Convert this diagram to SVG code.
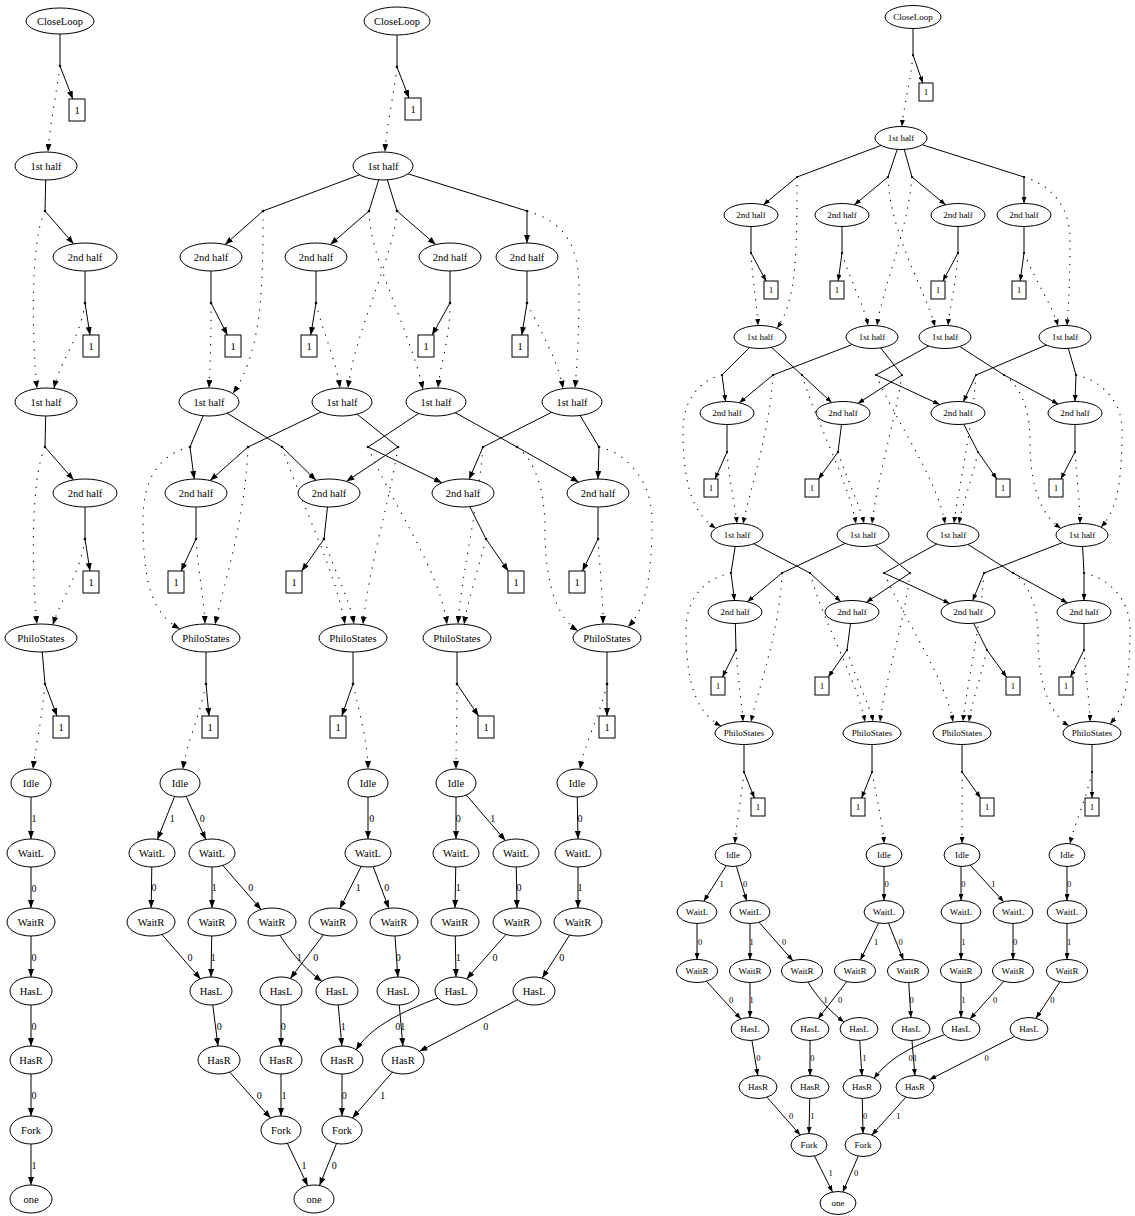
<svg xmlns="http://www.w3.org/2000/svg" width="1135" height="1216" viewBox="0 0 1135 1216">
<defs>
<marker id="ah" viewBox="0 0 8 6" refX="8" refY="3" markerWidth="8" markerHeight="6" markerUnits="userSpaceOnUse" orient="auto"><path d="M0,0L8,3L0,6z" fill="#000"/></marker>
<marker id="as" viewBox="0 0 6.5 5" refX="6.5" refY="2.5" markerWidth="6.5" markerHeight="5" markerUnits="userSpaceOnUse" orient="auto"><path d="M0,0L6.5,2.5L0,5z" fill="#000"/></marker>
<style>
.n ellipse,.n rect{fill:#fff;stroke:#000;stroke-width:1}
.n text{font-family:"Liberation Serif","Times New Roman",serif;font-size:10.5px;text-anchor:middle;fill:#000}
.s text{font-size:9px}
.l{stroke:#000;stroke-width:1;fill:none}
.a{stroke:#000;stroke-width:1;fill:none;marker-end:url(#ah)}
.d{stroke:#000;stroke-width:1.1;fill:none;stroke-dasharray:1.2,7;marker-end:url(#ah)}
.as{stroke:#000;stroke-width:1;fill:none;marker-end:url(#as)}
.ds{stroke:#000;stroke-width:1.1;fill:none;stroke-dasharray:1.2,6.5;marker-end:url(#as)}
.lb{font-family:"Liberation Serif","Times New Roman",serif;font-size:10px;text-anchor:middle;fill:#000}
.lbs{font-family:"Liberation Serif","Times New Roman",serif;font-size:8.5px;text-anchor:middle;fill:#000}
.pt{fill:#000}
</style>
</defs>
<rect width="1135" height="1216" fill="#fff"/>
<g id="connectors">
<!-- Graph A -->
<path class="l" d="M60,21V66"/>
<path class="a" d="M60,66L72.8,99"/>
<path class="d" d="M60,66C56,95 50,125 48,152"/>
<path class="l" d="M46,166L45,211"/>
<path class="a" d="M45,211L73.6,243.9"/>
<path class="d" d="M45,211C30,240 32,340 37,388.6"/>
<path class="l" d="M85,257V303"/>
<path class="a" d="M85,303L90,335"/>
<path class="d" d="M85,303C80,340 60,360 54,388.5"/>
<path class="l" d="M46,402L45,447"/>
<path class="a" d="M45,447L73.6,479.9"/>
<path class="d" d="M45,447C30,480 32,580 37,624"/>
<path class="l" d="M85,493V539"/>
<path class="a" d="M85,539L90,571"/>
<path class="d" d="M85,539C80,575 60,600 53,624.8"/>
<path class="l" d="M41,638L45,684"/>
<path class="a" d="M45,684L57,716"/>
<path class="d" d="M45,684C42,720 35,750 33,769"/>
<path class="a" d="M31,783V839"/>
<path class="a" d="M31,853V908"/>
<path class="a" d="M31,922V977"/>
<path class="a" d="M31,991V1046"/>
<path class="a" d="M31,1060V1116"/>
<path class="a" d="M31,1130V1185"/>
<text class="lb" x="34" y="821.5">1</text>
<text class="lb" x="34" y="891.5">0</text>
<text class="lb" x="34" y="960.5">0</text>
<text class="lb" x="34" y="1029.5">0</text>
<text class="lb" x="34" y="1098.5">0</text>
<text class="lb" x="34" y="1168.5">1</text>
<!-- Graph B -->
<path class="l" d="M397,21V67"/>
<path class="a" d="M397,67L409,98"/>
<path class="d" d="M397,67C393,100 386,130 385,152"/>
<path class="l" d="M383,166L263,211"/>
<path class="a" d="M263,211L225.1,244.5"/>
<path class="l" d="M383,166L369,211"/>
<path class="a" d="M369,211L330.3,244.6"/>
<path class="l" d="M383,166L397,211"/>
<path class="a" d="M397,211L435.7,244.6"/>
<path class="l" d="M383,166L527,211"/>
<path class="a" d="M527,211V243"/>
<path class="d" d="M263,211C263,290 262,350 233,393.6"/>
<path class="d" d="M369,211C370,260 410,330 423,389.4"/>
<path class="d" d="M397,211C393,260 355,330 348,388.3"/>
<path class="d" d="M527,211C565,222 579,245 579,290C579,340 577,365 575,388.1"/>
<path class="l" d="M211,257V303"/>
<path class="a" d="M211,303L227.4,335"/>
<path class="d" d="M211,303C211,340 210,370 209,388"/>
<path class="l" d="M316,257V303"/>
<path class="a" d="M316,303L310.8,335"/>
<path class="d" d="M316,303C322,330 336,360 340,388"/>
<path class="l" d="M450,257V303"/>
<path class="a" d="M450,303L432.1,335"/>
<path class="d" d="M450,303C450,340 440,365 438,388"/>
<path class="l" d="M527,257V303"/>
<path class="a" d="M527,303L521.8,335"/>
<path class="d" d="M527,303C540,330 558,360 563,388.6"/>
<path class="l" d="M209,402L190,447"/>
<path class="a" d="M190,447L194.2,479"/>
<path class="l" d="M209,402L282,447"/>
<path class="a" d="M282,447L316,480.3"/>
<path class="l" d="M342,402L248,447"/>
<path class="a" d="M248,447L210.1,480.5"/>
<path class="l" d="M342,402L398,447"/>
<path class="a" d="M398,447L346.4,481.4"/>
<path class="l" d="M436,402L368,447"/>
<path class="a" d="M368,447L441.9,482.8"/>
<path class="l" d="M436,402L517,447"/>
<path class="a" d="M517,447L578.7,482"/>
<path class="l" d="M572,402L483,447"/>
<path class="a" d="M483,447L469,479.3"/>
<path class="l" d="M572,402L599,447"/>
<path class="a" d="M599,447L598,479"/>
<path class="d" d="M190,447C158,455 143,480 143,520C143,590 155,615 180,629"/>
<path class="d" d="M248,447C245,520 225,580 215,624.5"/>
<path class="d" d="M196,539C198,570 204,600 205,624"/>
<path class="d" d="M282,447C300,500 335,570 345,624.2"/>
<path class="d" d="M398,447C390,500 368,570 363,624.4"/>
<path class="d" d="M324,539C334,570 350,600 354,624"/>
<path class="d" d="M368,447C390,500 440,570 447,624.4"/>
<path class="d" d="M483,447C478,510 462,570 458,624"/>
<path class="d" d="M486,539C478,570 468,600 464,624.4"/>
<path class="d" d="M517,447C535,460 545,490 545,530C545,590 560,620 578,630.7"/>
<path class="d" d="M599,447C625,452 652,480 652,520C652,590 642,612 628,627"/>
<path class="d" d="M598,539C600,570 603,600 603,624"/>
<path class="l" d="M196,493V539"/>
<path class="a" d="M196,539L181,571"/>
<path class="l" d="M329,493L324,539"/>
<path class="a" d="M324,539L301.7,571"/>
<path class="l" d="M463,493L486,539"/>
<path class="a" d="M486,539L508.3,571"/>
<path class="l" d="M598,493V539"/>
<path class="a" d="M598,539L582.4,571"/>
<path class="l" d="M206,638V684"/>
<path class="a" d="M206,684L209,716"/>
<path class="d" d="M206,684C200,715 186,745 183,769.2"/>
<path class="l" d="M353,638V684"/>
<path class="a" d="M353,684L341.8,716"/>
<path class="d" d="M353,684C360,715 368,745 368,769"/>
<path class="l" d="M457,638V684"/>
<path class="a" d="M457,684L478.6,716"/>
<path class="d" d="M457,684C457,720 456,745 456,769"/>
<path class="l" d="M607,638V684"/>
<path class="a" d="M607,684V716"/>
<path class="d" d="M607,684C600,715 584,745 580,769.2"/>
<path class="a" d="M180,783L157.4,839.4"/>
<path class="a" d="M180,783L205.8,839.5"/>
<path class="a" d="M152,853L151.2,908"/>
<path class="a" d="M212,853V908"/>
<path class="a" d="M212,853L261.1,909.5"/>
<path class="a" d="M368,783V839"/>
<path class="a" d="M368,853L339.8,908.6"/>
<path class="a" d="M368,853L388.8,908.3"/>
<path class="a" d="M456,783V839"/>
<path class="a" d="M456,783L505.4,840.6"/>
<path class="a" d="M456,853L455,908"/>
<path class="a" d="M516,853L517,908"/>
<path class="a" d="M577,783L578,839"/>
<path class="a" d="M578,853V908"/>
<path class="a" d="M151,922L200.5,978.9"/>
<path class="a" d="M212,922L211,977"/>
<path class="a" d="M272,922C285,945 300,965 322,981.5"/>
<path class="a" d="M333,922L290.4,978.5"/>
<path class="a" d="M394,922L397.9,977"/>
<path class="a" d="M455,922L456,977"/>
<path class="a" d="M517,922L466.7,978.9"/>
<path class="a" d="M578,922L542.2,978.1"/>
<path class="a" d="M211,991L218,1046"/>
<path class="a" d="M281,991V1046"/>
<path class="a" d="M337,991L341.9,1046"/>
<path class="a" d="M398,991L402.9,1046"/>
<path class="a" d="M456,991C420,1005 375,1020 356,1050"/>
<path class="a" d="M534,991L419.5,1051.3"/>
<path class="a" d="M219,1060L270.5,1118.1"/>
<path class="a" d="M281,1060V1116"/>
<path class="a" d="M342,1060V1116"/>
<path class="a" d="M403,1060L352.4,1118"/>
<path class="a" d="M281,1130L307.7,1185.7"/>
<path class="a" d="M342,1130L319.5,1185.5"/>
<text class="lb" x="172.3" y="821.8">1</text>
<text class="lb" x="202.3" y="821.8">0</text>
<text class="lb" x="154" y="890.8">0</text>
<text class="lb" x="214.3" y="890.8">1</text>
<text class="lb" x="250.7" y="890.8">0</text>
<text class="lb" x="371.7" y="821.8">0</text>
<text class="lb" x="358.3" y="890.8">1</text>
<text class="lb" x="386.7" y="890.8">0</text>
<text class="lb" x="458.3" y="821.8">0</text>
<text class="lb" x="492.7" y="821.8">1</text>
<text class="lb" x="458.3" y="890.8">1</text>
<text class="lb" x="519" y="890.8">0</text>
<text class="lb" x="580" y="821.8">0</text>
<text class="lb" x="580" y="890.8">1</text>
<text class="lb" x="190" y="960.8">0</text>
<text class="lb" x="213.3" y="960.8">1</text>
<text class="lb" x="299.3" y="960.8">1</text>
<text class="lb" x="315.7" y="960.8">0</text>
<text class="lb" x="398.3" y="960.8">0</text>
<text class="lb" x="458.3" y="960.8">1</text>
<text class="lb" x="495" y="960.8">0</text>
<text class="lb" x="561.7" y="960.8">0</text>
<text class="lb" x="219.3" y="1030.2">0</text>
<text class="lb" x="283.3" y="1030.2">0</text>
<text class="lb" x="343.3" y="1030.2">1</text>
<text class="lb" x="397.7" y="1030.2">0</text>
<text class="lb" x="402.7" y="1030.2">1</text>
<text class="lb" x="485.7" y="1030.2">0</text>
<text class="lb" x="259.3" y="1098.5">0</text>
<text class="lb" x="284" y="1098.5">1</text>
<text class="lb" x="344.3" y="1098.5">0</text>
<text class="lb" x="382.7" y="1098.5">1</text>
<text class="lb" x="304" y="1169.2">1</text>
<text class="lb" x="334.3" y="1169.2">0</text>
<!-- Graph C -->
<path class="l" d="M913,17V55"/>
<path class="as" d="M913,55L922.8,83"/>
<path class="ds" d="M913,55C910,85 903,110 902,126.5"/>
<path class="l" d="M901,138L797,177"/>
<path class="as" d="M797,177L763.4,204.8"/>
<path class="l" d="M901,138L888,177"/>
<path class="as" d="M888,177L854.4,204.8"/>
<path class="l" d="M901,138L912,177"/>
<path class="as" d="M912,177L945.6,204.8"/>
<path class="l" d="M901,138L1024,177"/>
<path class="as" d="M1024,177V203.5"/>
<path class="ds" d="M797,177C797,250 797,300 777,328.3"/>
<path class="ds" d="M888,177C889,230 925,290 935,326.4"/>
<path class="ds" d="M912,177C908,230 882,290 877,325.6"/>
<path class="ds" d="M1024,177C1050,185 1070,205 1070,240C1070,290 1068,310 1067,325.9"/>
<path class="l" d="M751,215V253"/>
<path class="as" d="M751,253L766.1,281"/>
<path class="ds" d="M751,253C753,285 757,305 758,325.5"/>
<path class="l" d="M842,215V253"/>
<path class="as" d="M842,253L838.2,281"/>
<path class="ds" d="M842,253C850,280 864,305 868,325.5"/>
<path class="l" d="M958,215V253"/>
<path class="as" d="M958,253L942.9,281"/>
<path class="ds" d="M958,253C956,285 950,305 948,325.5"/>
<path class="l" d="M1024,215V253"/>
<path class="as" d="M1024,253L1020.2,281"/>
<path class="ds" d="M1024,253C1035,280 1052,305 1058,325.9"/>
<path class="l" d="M760,337L722,375"/>
<path class="as" d="M722,375L725.5,401.5"/>
<path class="l" d="M760,337L802,375"/>
<path class="as" d="M802,375L831.7,402.6"/>
<path class="l" d="M872,337L773,375"/>
<path class="as" d="M773,375L739.4,402.8"/>
<path class="l" d="M872,337L902,375"/>
<path class="as" d="M902,375L857.9,403.4"/>
<path class="l" d="M945,337L876,375"/>
<path class="as" d="M876,375L939.7,404.5"/>
<path class="l" d="M945,337L1004,375"/>
<path class="as" d="M1004,375L1058.2,404"/>
<path class="l" d="M1065,337L976,375"/>
<path class="as" d="M976,375L963.3,401.7"/>
<path class="l" d="M1065,337L1076,375"/>
<path class="as" d="M1076,375L1075,401.5"/>
<path class="ds" d="M722,375C700,380 683,400 683,430C683,490 695,515 716,528.2"/>
<path class="ds" d="M773,375C770,430 750,490 743,523.8"/>
<path class="ds" d="M727,452C729,480 735,505 737,523.5"/>
<path class="ds" d="M802,375C815,420 848,480 856,523.7"/>
<path class="ds" d="M902,375C895,420 877,480 872,523.8"/>
<path class="ds" d="M838,452C847,480 860,505 864,523.5"/>
<path class="ds" d="M876,375C895,420 938,480 945,523.8"/>
<path class="ds" d="M976,375C972,430 958,490 954,523.5"/>
<path class="ds" d="M978,452C972,480 962,505 959,523.7"/>
<path class="ds" d="M1004,375C1020,385 1030,410 1030,440C1030,495 1045,518 1061,528.2"/>
<path class="ds" d="M1076,375C1100,380 1122,400 1122,430C1122,490 1115,512 1101,527.1"/>
<path class="ds" d="M1075,452C1077,480 1080,505 1080,523.5"/>
<path class="l" d="M727,413V452"/>
<path class="as" d="M727,452L715,479"/>
<path class="l" d="M843,413L838,452"/>
<path class="as" d="M838,452L818.5,479"/>
<path class="l" d="M958,413L978,452"/>
<path class="as" d="M978,452L996.8,479"/>
<path class="l" d="M1075,413V452"/>
<path class="as" d="M1075,452L1060.8,479"/>
<path class="l" d="M737,535L731,573"/>
<path class="as" d="M731,573L734.5,600.5"/>
<path class="l" d="M737,535L810,573"/>
<path class="as" d="M810,573L840.7,601.5"/>
<path class="l" d="M863,535L782,573"/>
<path class="as" d="M782,573L747.3,601.8"/>
<path class="l" d="M863,535L910,573"/>
<path class="as" d="M910,573L866.4,602.3"/>
<path class="l" d="M953,535L884,573"/>
<path class="as" d="M884,573L949.8,603.5"/>
<path class="l" d="M953,535L1013,573"/>
<path class="as" d="M1013,573L1067.5,602.9"/>
<path class="l" d="M1082,535L984,573"/>
<path class="as" d="M984,573L972.6,600.7"/>
<path class="l" d="M1082,535L1084,573"/>
<path class="as" d="M1084,573V600.5"/>
<path class="ds" d="M731,573C705,578 686,598 686,630C686,690 700,715 721,726"/>
<path class="ds" d="M782,573C780,630 758,690 751,721.8"/>
<path class="ds" d="M736,650C738,680 742,705 743,721.5"/>
<path class="ds" d="M810,573C822,620 857,680 865,721.7"/>
<path class="ds" d="M910,573C905,620 885,680 880,721.8"/>
<path class="ds" d="M847,650C856,680 870,705 873,721.5"/>
<path class="ds" d="M884,573C905,620 946,680 953,721.8"/>
<path class="ds" d="M984,573C980,630 966,690 963,721.5"/>
<path class="ds" d="M987,650C980,680 971,705 969,721.7"/>
<path class="ds" d="M1013,573C1028,583 1038,605 1038,635C1038,690 1052,715 1069,726"/>
<path class="ds" d="M1084,573C1108,578 1130,598 1130,630C1130,690 1122,710 1110,724"/>
<path class="ds" d="M1084,650C1086,680 1090,705 1090,721.5"/>
<path class="l" d="M735,612L736,650"/>
<path class="as" d="M736,650L722.5,677"/>
<path class="l" d="M852,612L847,650"/>
<path class="as" d="M847,650L828.3,677"/>
<path class="l" d="M968,612L987,650"/>
<path class="as" d="M987,650L1006.5,677"/>
<path class="l" d="M1084,612V650"/>
<path class="as" d="M1084,650L1070.5,677"/>
<path class="l" d="M744,733V772"/>
<path class="as" d="M744,772L754.4,798"/>
<path class="ds" d="M744,772C741,800 736,825 735,843.5"/>
<path class="l" d="M872,733V772"/>
<path class="as" d="M872,772L861.6,798"/>
<path class="ds" d="M872,772C877,800 883,825 884,843.5"/>
<path class="l" d="M962,733V772"/>
<path class="as" d="M962,772L980.6,798"/>
<path class="ds" d="M962,772C962,800 962,825 962,843.5"/>
<path class="l" d="M1092,733V772"/>
<path class="as" d="M1092,772V798"/>
<path class="ds" d="M1092,772C1086,800 1074,825 1070,843.8"/>
<path class="as" d="M733,855L703.8,901.2"/>
<path class="as" d="M733,855L746.6,900.7"/>
<path class="as" d="M697,912V959.5"/>
<path class="as" d="M750,912V959.5"/>
<path class="as" d="M750,912L792.9,960.7"/>
<path class="as" d="M884,855V900.5"/>
<path class="as" d="M884,912L860.4,959.9"/>
<path class="as" d="M884,912L903.4,959.8"/>
<path class="as" d="M961,855V900.5"/>
<path class="as" d="M961,855L1003.7,901.8"/>
<path class="as" d="M961,912V959.5"/>
<path class="as" d="M1013,912V959.5"/>
<path class="as" d="M1067,855V900.5"/>
<path class="as" d="M1067,912V959.5"/>
<path class="as" d="M697,971L740.8,1018.9"/>
<path class="as" d="M750,971V1017.5"/>
<path class="as" d="M802,971C812,992 828,1010 844,1022"/>
<path class="as" d="M855,971L818.1,1018.6"/>
<path class="as" d="M908,971L910.9,1017.5"/>
<path class="as" d="M961,971V1017.5"/>
<path class="as" d="M1013,971L970.1,1018.9"/>
<path class="as" d="M1067,971L1036,1018.3"/>
<path class="as" d="M750,1029L757.8,1075.5"/>
<path class="as" d="M810,1029V1075.5"/>
<path class="as" d="M859,1029L861.9,1075.5"/>
<path class="as" d="M911,1029L914.9,1075.5"/>
<path class="as" d="M961,1029C930,1040 895,1050 874,1078.5"/>
<path class="as" d="M1029,1029L929.5,1079.6"/>
<path class="as" d="M758,1087L800.2,1135"/>
<path class="as" d="M810,1087L809,1133.5"/>
<path class="as" d="M862,1087L863,1133.5"/>
<path class="as" d="M915,1087L871.9,1135"/>
<path class="as" d="M809,1145L832.5,1192"/>
<path class="as" d="M863,1145L842.8,1191.9"/>
<text class="lbs" x="721.7" y="886.7">1</text>
<text class="lbs" x="745" y="886.7">0</text>
<text class="lbs" x="700" y="944.7">0</text>
<text class="lbs" x="751.7" y="944.7">1</text>
<text class="lbs" x="784" y="944.7">0</text>
<text class="lbs" x="886.7" y="886.7">0</text>
<text class="lbs" x="876" y="944.7">1</text>
<text class="lbs" x="900.7" y="944.7">0</text>
<text class="lbs" x="963.3" y="886.7">0</text>
<text class="lbs" x="993.3" y="886.7">1</text>
<text class="lbs" x="963.3" y="944.7">1</text>
<text class="lbs" x="1015" y="944.7">0</text>
<text class="lbs" x="1069" y="886.7">0</text>
<text class="lbs" x="1069" y="944.7">1</text>
<text class="lbs" x="731" y="1003">0</text>
<text class="lbs" x="751.7" y="1003">1</text>
<text class="lbs" x="825.7" y="1003">1</text>
<text class="lbs" x="840" y="1003">0</text>
<text class="lbs" x="911.7" y="1003">0</text>
<text class="lbs" x="963.3" y="1003">1</text>
<text class="lbs" x="995" y="1003">0</text>
<text class="lbs" x="1052.3" y="1003">0</text>
<text class="lbs" x="758.3" y="1061.3">0</text>
<text class="lbs" x="812.3" y="1061.3">0</text>
<text class="lbs" x="864.3" y="1061.3">1</text>
<text class="lbs" x="910.7" y="1061.3">0</text>
<text class="lbs" x="915" y="1061.3">1</text>
<text class="lbs" x="986.7" y="1061.3">0</text>
<text class="lbs" x="791" y="1119">0</text>
<text class="lbs" x="812.3" y="1119">1</text>
<text class="lbs" x="865" y="1119">0</text>
<text class="lbs" x="898.3" y="1119">1</text>
<text class="lbs" x="830.7" y="1176.3">1</text>
<text class="lbs" x="856" y="1176.3">0</text>
</g>
<g id="junctions">
<circle class="pt" cx="60" cy="66" r="1.3"/><circle class="pt" cx="45" cy="211" r="1.3"/><circle class="pt" cx="85" cy="303" r="1.3"/><circle class="pt" cx="45" cy="447" r="1.3"/><circle class="pt" cx="85" cy="539" r="1.3"/><circle class="pt" cx="45" cy="684" r="1.3"/>
<circle class="pt" cx="397" cy="67" r="1.3"/><circle class="pt" cx="263" cy="211" r="1.3"/><circle class="pt" cx="369" cy="211" r="1.3"/><circle class="pt" cx="397" cy="211" r="1.3"/><circle class="pt" cx="527" cy="211" r="1.3"/>
<circle class="pt" cx="211" cy="303" r="1.3"/><circle class="pt" cx="316" cy="303" r="1.3"/><circle class="pt" cx="450" cy="303" r="1.3"/><circle class="pt" cx="527" cy="303" r="1.3"/>
<circle class="pt" cx="190" cy="447" r="1.3"/><circle class="pt" cx="248" cy="447" r="1.3"/><circle class="pt" cx="282" cy="447" r="1.3"/><circle class="pt" cx="368" cy="447" r="1.3"/><circle class="pt" cx="398" cy="447" r="1.3"/><circle class="pt" cx="483" cy="447" r="1.3"/><circle class="pt" cx="517" cy="447" r="1.3"/><circle class="pt" cx="599" cy="447" r="1.3"/>
<circle class="pt" cx="196" cy="539" r="1.3"/><circle class="pt" cx="324" cy="539" r="1.3"/><circle class="pt" cx="486" cy="539" r="1.3"/><circle class="pt" cx="598" cy="539" r="1.3"/>
<circle class="pt" cx="206" cy="684" r="1.3"/><circle class="pt" cx="353" cy="684" r="1.3"/><circle class="pt" cx="457" cy="684" r="1.3"/><circle class="pt" cx="607" cy="684" r="1.3"/>
<circle class="pt" cx="913" cy="55" r="1.1"/><circle class="pt" cx="797" cy="177" r="1.1"/><circle class="pt" cx="888" cy="177" r="1.1"/><circle class="pt" cx="912" cy="177" r="1.1"/><circle class="pt" cx="1024" cy="177" r="1.1"/>
<circle class="pt" cx="751" cy="253" r="1.1"/><circle class="pt" cx="842" cy="253" r="1.1"/><circle class="pt" cx="958" cy="253" r="1.1"/><circle class="pt" cx="1024" cy="253" r="1.1"/>
<circle class="pt" cx="722" cy="375" r="1.1"/><circle class="pt" cx="773" cy="375" r="1.1"/><circle class="pt" cx="802" cy="375" r="1.1"/><circle class="pt" cx="876" cy="375" r="1.1"/><circle class="pt" cx="902" cy="375" r="1.1"/><circle class="pt" cx="976" cy="375" r="1.1"/><circle class="pt" cx="1004" cy="375" r="1.1"/><circle class="pt" cx="1076" cy="375" r="1.1"/>
<circle class="pt" cx="727" cy="452" r="1.1"/><circle class="pt" cx="838" cy="452" r="1.1"/><circle class="pt" cx="978" cy="452" r="1.1"/><circle class="pt" cx="1075" cy="452" r="1.1"/>
<circle class="pt" cx="731" cy="573" r="1.1"/><circle class="pt" cx="782" cy="573" r="1.1"/><circle class="pt" cx="810" cy="573" r="1.1"/><circle class="pt" cx="884" cy="573" r="1.1"/><circle class="pt" cx="910" cy="573" r="1.1"/><circle class="pt" cx="984" cy="573" r="1.1"/><circle class="pt" cx="1013" cy="573" r="1.1"/><circle class="pt" cx="1084" cy="573" r="1.1"/>
<circle class="pt" cx="736" cy="650" r="1.1"/><circle class="pt" cx="847" cy="650" r="1.1"/><circle class="pt" cx="987" cy="650" r="1.1"/><circle class="pt" cx="1084" cy="650" r="1.1"/>
<circle class="pt" cx="744" cy="772" r="1.1"/><circle class="pt" cx="872" cy="772" r="1.1"/><circle class="pt" cx="962" cy="772" r="1.1"/><circle class="pt" cx="1092" cy="772" r="1.1"/>
</g>
<g id="nodes">
<!-- Graph A -->
<g id="a-closeloop" class="n"><ellipse cx="60" cy="21" rx="34" ry="13"/><text x="60" y="24.5">CloseLoop</text></g>
<g id="a-w0" class="n"><rect x="69" y="99" width="16" height="22"/><text x="77" y="113.5">1</text></g>
<g id="a-h1" class="n"><ellipse cx="46" cy="166" rx="31" ry="14"/><text x="46" y="169.5">1st half</text></g>
<g id="a-s1" class="n"><ellipse cx="85" cy="257" rx="32" ry="14"/><text x="85" y="260.5">2nd half</text></g>
<g id="a-w1" class="n"><rect x="83" y="335" width="16" height="22"/><text x="91" y="349.5">1</text></g>
<g id="a-h2" class="n"><ellipse cx="46" cy="402" rx="31" ry="14"/><text x="46" y="405.5">1st half</text></g>
<g id="a-s2" class="n"><ellipse cx="85" cy="493" rx="32" ry="14"/><text x="85" y="496.5">2nd half</text></g>
<g id="a-w2" class="n"><rect x="83" y="571" width="16" height="22"/><text x="91" y="585.5">1</text></g>
<g id="a-ps" class="n"><ellipse cx="41" cy="638" rx="36" ry="14"/><text x="41" y="641.5">PhiloStates</text></g>
<g id="a-w3" class="n"><rect x="53" y="716" width="16" height="22"/><text x="61" y="730.5">1</text></g>
<g id="a-idle" class="n"><ellipse cx="31" cy="783" rx="20" ry="14"/><text x="31" y="786.5">Idle</text></g>
<g id="a-waitl" class="n"><ellipse cx="31" cy="853" rx="24" ry="14"/><text x="31" y="856.5">WaitL</text></g>
<g id="a-waitr" class="n"><ellipse cx="31" cy="922" rx="24" ry="14"/><text x="31" y="925.5">WaitR</text></g>
<g id="a-hasl" class="n"><ellipse cx="31" cy="991" rx="21" ry="14"/><text x="31" y="994.5">HasL</text></g>
<g id="a-hasr" class="n"><ellipse cx="31" cy="1060" rx="21" ry="14"/><text x="31" y="1063.5">HasR</text></g>
<g id="a-fork" class="n"><ellipse cx="31" cy="1130" rx="21" ry="14"/><text x="31" y="1133.5">Fork</text></g>
<g id="a-one" class="n"><ellipse cx="31" cy="1199" rx="21" ry="14"/><text x="31" y="1202.5">one</text></g>
<!-- Graph B -->
<g id="b-closeloop" class="n"><ellipse cx="397" cy="21" rx="33" ry="14"/><text x="397" y="24.5">CloseLoop</text></g>
<g id="b-w0" class="n"><rect x="405" y="98" width="16" height="22"/><text x="413" y="112.5">1</text></g>
<g id="b-h1" class="n"><ellipse cx="383" cy="166" rx="30" ry="14"/><text x="383" y="169.5">1st half</text></g>
<g id="b-s1a" class="n"><ellipse cx="211" cy="257" rx="31" ry="14"/><text x="211" y="260.5">2nd half</text></g>
<g id="b-s1b" class="n"><ellipse cx="316" cy="257" rx="31" ry="14"/><text x="316" y="260.5">2nd half</text></g>
<g id="b-s1c" class="n"><ellipse cx="450" cy="257" rx="31" ry="14"/><text x="450" y="260.5">2nd half</text></g>
<g id="b-s1d" class="n"><ellipse cx="527" cy="257" rx="31" ry="14"/><text x="527" y="260.5">2nd half</text></g>
<g id="b-w1a" class="n"><rect x="225" y="335" width="16" height="22"/><text x="233" y="349.5">1</text></g>
<g id="b-w1b" class="n"><rect x="301" y="335" width="16" height="22"/><text x="309" y="349.5">1</text></g>
<g id="b-w1c" class="n"><rect x="418" y="335" width="16" height="22"/><text x="426" y="349.5">1</text></g>
<g id="b-w1d" class="n"><rect x="512" y="335" width="16" height="22"/><text x="520" y="349.5">1</text></g>
<g id="b-h2a" class="n"><ellipse cx="209" cy="402" rx="30" ry="14"/><text x="209" y="405.5">1st half</text></g>
<g id="b-h2b" class="n"><ellipse cx="342" cy="402" rx="30" ry="14"/><text x="342" y="405.5">1st half</text></g>
<g id="b-h2c" class="n"><ellipse cx="436" cy="402" rx="30" ry="14"/><text x="436" y="405.5">1st half</text></g>
<g id="b-h2d" class="n"><ellipse cx="572" cy="402" rx="30" ry="14"/><text x="572" y="405.5">1st half</text></g>
<g id="b-s2a" class="n"><ellipse cx="196" cy="493" rx="31" ry="14"/><text x="196" y="496.5">2nd half</text></g>
<g id="b-s2b" class="n"><ellipse cx="329" cy="493" rx="31" ry="14"/><text x="329" y="496.5">2nd half</text></g>
<g id="b-s2c" class="n"><ellipse cx="463" cy="493" rx="31" ry="14"/><text x="463" y="496.5">2nd half</text></g>
<g id="b-s2d" class="n"><ellipse cx="598" cy="493" rx="31" ry="14"/><text x="598" y="496.5">2nd half</text></g>
<g id="b-w2a" class="n"><rect x="168" y="571" width="16" height="22"/><text x="176" y="585.5">1</text></g>
<g id="b-w2b" class="n"><rect x="286" y="571" width="16" height="22"/><text x="294" y="585.5">1</text></g>
<g id="b-w2c" class="n"><rect x="508" y="571" width="16" height="22"/><text x="516" y="585.5">1</text></g>
<g id="b-w2d" class="n"><rect x="569" y="571" width="16" height="22"/><text x="577" y="585.5">1</text></g>
<g id="b-psa" class="n"><ellipse cx="206" cy="638" rx="34" ry="14"/><text x="206" y="641.5">PhiloStates</text></g>
<g id="b-psb" class="n"><ellipse cx="353" cy="638" rx="34" ry="14"/><text x="353" y="641.5">PhiloStates</text></g>
<g id="b-psc" class="n"><ellipse cx="457" cy="638" rx="34" ry="14"/><text x="457" y="641.5">PhiloStates</text></g>
<g id="b-psd" class="n"><ellipse cx="607" cy="638" rx="34" ry="14"/><text x="607" y="641.5">PhiloStates</text></g>
<g id="b-w3a" class="n"><rect x="202" y="716" width="16" height="22"/><text x="210" y="730.5">1</text></g>
<g id="b-w3b" class="n"><rect x="330" y="716" width="16" height="22"/><text x="338" y="730.5">1</text></g>
<g id="b-w3c" class="n"><rect x="478" y="716" width="16" height="22"/><text x="486" y="730.5">1</text></g>
<g id="b-w3d" class="n"><rect x="599" y="716" width="16" height="22"/><text x="607" y="730.5">1</text></g>
<g id="b-idlea" class="n"><ellipse cx="180" cy="783" rx="20" ry="14"/><text x="180" y="786.5">Idle</text></g>
<g id="b-idleb" class="n"><ellipse cx="368" cy="783" rx="20" ry="14"/><text x="368" y="786.5">Idle</text></g>
<g id="b-idlec" class="n"><ellipse cx="456" cy="783" rx="20" ry="14"/><text x="456" y="786.5">Idle</text></g>
<g id="b-idled" class="n"><ellipse cx="577" cy="783" rx="20" ry="14"/><text x="577" y="786.5">Idle</text></g>
<g id="b-waitl1" class="n"><ellipse cx="152" cy="853" rx="23" ry="14"/><text x="152" y="856.5">WaitL</text></g>
<g id="b-waitl2" class="n"><ellipse cx="212" cy="853" rx="23" ry="14"/><text x="212" y="856.5">WaitL</text></g>
<g id="b-waitl3" class="n"><ellipse cx="368" cy="853" rx="23" ry="14"/><text x="368" y="856.5">WaitL</text></g>
<g id="b-waitl4" class="n"><ellipse cx="456" cy="853" rx="23" ry="14"/><text x="456" y="856.5">WaitL</text></g>
<g id="b-waitl5" class="n"><ellipse cx="516" cy="853" rx="23" ry="14"/><text x="516" y="856.5">WaitL</text></g>
<g id="b-waitl6" class="n"><ellipse cx="578" cy="853" rx="23" ry="14"/><text x="578" y="856.5">WaitL</text></g>
<g id="b-waitr1" class="n"><ellipse cx="151" cy="922" rx="24" ry="14"/><text x="151" y="925.5">WaitR</text></g>
<g id="b-waitr2" class="n"><ellipse cx="212" cy="922" rx="24" ry="14"/><text x="212" y="925.5">WaitR</text></g>
<g id="b-waitr3" class="n"><ellipse cx="272" cy="922" rx="24" ry="14"/><text x="272" y="925.5">WaitR</text></g>
<g id="b-waitr4" class="n"><ellipse cx="333" cy="922" rx="24" ry="14"/><text x="333" y="925.5">WaitR</text></g>
<g id="b-waitr5" class="n"><ellipse cx="394" cy="922" rx="24" ry="14"/><text x="394" y="925.5">WaitR</text></g>
<g id="b-waitr6" class="n"><ellipse cx="455" cy="922" rx="24" ry="14"/><text x="455" y="925.5">WaitR</text></g>
<g id="b-waitr7" class="n"><ellipse cx="517" cy="922" rx="24" ry="14"/><text x="517" y="925.5">WaitR</text></g>
<g id="b-waitr8" class="n"><ellipse cx="578" cy="922" rx="24" ry="14"/><text x="578" y="925.5">WaitR</text></g>
<g id="b-hasl1" class="n"><ellipse cx="211" cy="991" rx="21" ry="14"/><text x="211" y="994.5">HasL</text></g>
<g id="b-hasl2" class="n"><ellipse cx="281" cy="991" rx="21" ry="14"/><text x="281" y="994.5">HasL</text></g>
<g id="b-hasl3" class="n"><ellipse cx="337" cy="991" rx="21" ry="14"/><text x="337" y="994.5">HasL</text></g>
<g id="b-hasl4" class="n"><ellipse cx="398" cy="991" rx="21" ry="14"/><text x="398" y="994.5">HasL</text></g>
<g id="b-hasl5" class="n"><ellipse cx="456" cy="991" rx="21" ry="14"/><text x="456" y="994.5">HasL</text></g>
<g id="b-hasl6" class="n"><ellipse cx="534" cy="991" rx="21" ry="14"/><text x="534" y="994.5">HasL</text></g>
<g id="b-hasr1" class="n"><ellipse cx="219" cy="1060" rx="21" ry="14"/><text x="219" y="1063.5">HasR</text></g>
<g id="b-hasr2" class="n"><ellipse cx="281" cy="1060" rx="21" ry="14"/><text x="281" y="1063.5">HasR</text></g>
<g id="b-hasr3" class="n"><ellipse cx="342" cy="1060" rx="21" ry="14"/><text x="342" y="1063.5">HasR</text></g>
<g id="b-hasr4" class="n"><ellipse cx="403" cy="1060" rx="21" ry="14"/><text x="403" y="1063.5">HasR</text></g>
<g id="b-fork1" class="n"><ellipse cx="281" cy="1130" rx="20" ry="14"/><text x="281" y="1133.5">Fork</text></g>
<g id="b-fork2" class="n"><ellipse cx="342" cy="1130" rx="20" ry="14"/><text x="342" y="1133.5">Fork</text></g>
<g id="b-one" class="n"><ellipse cx="314" cy="1199" rx="20" ry="14"/><text x="314" y="1202.5">one</text></g>
<!-- Graph C -->
<g id="c-closeloop" class="n s"><ellipse cx="913" cy="17" rx="28" ry="11.5"/><text x="913" y="20">CloseLoop</text></g>
<g id="c-w0" class="n s"><rect x="919" y="83" width="14" height="18"/><text x="926" y="95">1</text></g>
<g id="c-h1" class="n s"><ellipse cx="901" cy="138" rx="26" ry="11.5"/><text x="901" y="141">1st half</text></g>
<g id="c-s1a" class="n s"><ellipse cx="751" cy="215" rx="27" ry="11.5"/><text x="751" y="218">2nd half</text></g>
<g id="c-s1b" class="n s"><ellipse cx="842" cy="215" rx="27" ry="11.5"/><text x="842" y="218">2nd half</text></g>
<g id="c-s1c" class="n s"><ellipse cx="958" cy="215" rx="27" ry="11.5"/><text x="958" y="218">2nd half</text></g>
<g id="c-s1d" class="n s"><ellipse cx="1024" cy="215" rx="27" ry="11.5"/><text x="1024" y="218">2nd half</text></g>
<g id="c-w1a" class="n s"><rect x="764" y="281" width="14" height="18"/><text x="771" y="293">1</text></g>
<g id="c-w1b" class="n s"><rect x="830" y="281" width="14" height="18"/><text x="837" y="293">1</text></g>
<g id="c-w1c" class="n s"><rect x="931" y="281" width="14" height="18"/><text x="938" y="293">1</text></g>
<g id="c-w1d" class="n s"><rect x="1012" y="281" width="14" height="18"/><text x="1019" y="293">1</text></g>
<g id="c-h2a" class="n s"><ellipse cx="760" cy="337" rx="26" ry="11.5"/><text x="760" y="340">1st half</text></g>
<g id="c-h2b" class="n s"><ellipse cx="872" cy="337" rx="26" ry="11.5"/><text x="872" y="340">1st half</text></g>
<g id="c-h2c" class="n s"><ellipse cx="945" cy="337" rx="26" ry="11.5"/><text x="945" y="340">1st half</text></g>
<g id="c-h2d" class="n s"><ellipse cx="1065" cy="337" rx="26" ry="11.5"/><text x="1065" y="340">1st half</text></g>
<g id="c-s2a" class="n s"><ellipse cx="727" cy="413" rx="27" ry="11.5"/><text x="727" y="416">2nd half</text></g>
<g id="c-s2b" class="n s"><ellipse cx="843" cy="413" rx="27" ry="11.5"/><text x="843" y="416">2nd half</text></g>
<g id="c-s2c" class="n s"><ellipse cx="958" cy="413" rx="27" ry="11.5"/><text x="958" y="416">2nd half</text></g>
<g id="c-s2d" class="n s"><ellipse cx="1075" cy="413" rx="27" ry="11.5"/><text x="1075" y="416">2nd half</text></g>
<g id="c-w2a" class="n s"><rect x="704" y="479" width="14" height="18"/><text x="711" y="491">1</text></g>
<g id="c-w2b" class="n s"><rect x="805" y="479" width="14" height="18"/><text x="812" y="491">1</text></g>
<g id="c-w2c" class="n s"><rect x="996" y="479" width="14" height="18"/><text x="1003" y="491">1</text></g>
<g id="c-w2d" class="n s"><rect x="1049" y="479" width="14" height="18"/><text x="1056" y="491">1</text></g>
<g id="c-h3a" class="n s"><ellipse cx="737" cy="535" rx="26" ry="11.5"/><text x="737" y="538">1st half</text></g>
<g id="c-h3b" class="n s"><ellipse cx="863" cy="535" rx="26" ry="11.5"/><text x="863" y="538">1st half</text></g>
<g id="c-h3c" class="n s"><ellipse cx="953" cy="535" rx="26" ry="11.5"/><text x="953" y="538">1st half</text></g>
<g id="c-h3d" class="n s"><ellipse cx="1082" cy="535" rx="26" ry="11.5"/><text x="1082" y="538">1st half</text></g>
<g id="c-s3a" class="n s"><ellipse cx="735" cy="612" rx="27" ry="11.5"/><text x="735" y="615">2nd half</text></g>
<g id="c-s3b" class="n s"><ellipse cx="852" cy="612" rx="27" ry="11.5"/><text x="852" y="615">2nd half</text></g>
<g id="c-s3c" class="n s"><ellipse cx="968" cy="612" rx="27" ry="11.5"/><text x="968" y="615">2nd half</text></g>
<g id="c-s3d" class="n s"><ellipse cx="1084" cy="612" rx="27" ry="11.5"/><text x="1084" y="615">2nd half</text></g>
<g id="c-w3a" class="n s"><rect x="711" y="677" width="14" height="18"/><text x="718" y="689">1</text></g>
<g id="c-w3b" class="n s"><rect x="815" y="677" width="14" height="18"/><text x="822" y="689">1</text></g>
<g id="c-w3c" class="n s"><rect x="1006" y="677" width="14" height="18"/><text x="1013" y="689">1</text></g>
<g id="c-w3d" class="n s"><rect x="1059" y="677" width="14" height="18"/><text x="1066" y="689">1</text></g>
<g id="c-psa" class="n s"><ellipse cx="744" cy="733" rx="29" ry="11.5"/><text x="744" y="736">PhiloStates</text></g>
<g id="c-psb" class="n s"><ellipse cx="872" cy="733" rx="29" ry="11.5"/><text x="872" y="736">PhiloStates</text></g>
<g id="c-psc" class="n s"><ellipse cx="962" cy="733" rx="29" ry="11.5"/><text x="962" y="736">PhiloStates</text></g>
<g id="c-psd" class="n s"><ellipse cx="1092" cy="733" rx="29" ry="11.5"/><text x="1092" y="736">PhiloStates</text></g>
<g id="c-w4a" class="n s"><rect x="751" y="798" width="14" height="18"/><text x="758" y="810">1</text></g>
<g id="c-w4b" class="n s"><rect x="851" y="798" width="14" height="18"/><text x="858" y="810">1</text></g>
<g id="c-w4c" class="n s"><rect x="980" y="798" width="14" height="18"/><text x="987" y="810">1</text></g>
<g id="c-w4d" class="n s"><rect x="1085" y="798" width="14" height="18"/><text x="1092" y="810">1</text></g>
<g id="c-idlea" class="n s"><ellipse cx="733" cy="855" rx="18" ry="11.5"/><text x="733" y="858">Idle</text></g>
<g id="c-idleb" class="n s"><ellipse cx="884" cy="855" rx="18" ry="11.5"/><text x="884" y="858">Idle</text></g>
<g id="c-idlec" class="n s"><ellipse cx="962" cy="855" rx="18" ry="11.5"/><text x="962" y="858">Idle</text></g>
<g id="c-idled" class="n s"><ellipse cx="1067" cy="855" rx="18" ry="11.5"/><text x="1067" y="858">Idle</text></g>
<g id="c-waitl1" class="n s"><ellipse cx="697" cy="912" rx="20" ry="11.5"/><text x="697" y="915">WaitL</text></g>
<g id="c-waitl2" class="n s"><ellipse cx="750" cy="912" rx="20" ry="11.5"/><text x="750" y="915">WaitL</text></g>
<g id="c-waitl3" class="n s"><ellipse cx="884" cy="912" rx="20" ry="11.5"/><text x="884" y="915">WaitL</text></g>
<g id="c-waitl4" class="n s"><ellipse cx="961" cy="912" rx="20" ry="11.5"/><text x="961" y="915">WaitL</text></g>
<g id="c-waitl5" class="n s"><ellipse cx="1013" cy="912" rx="20" ry="11.5"/><text x="1013" y="915">WaitL</text></g>
<g id="c-waitl6" class="n s"><ellipse cx="1067" cy="912" rx="20" ry="11.5"/><text x="1067" y="915">WaitL</text></g>
<g id="c-waitr1" class="n s"><ellipse cx="697" cy="971" rx="20.5" ry="11.5"/><text x="697" y="974">WaitR</text></g>
<g id="c-waitr2" class="n s"><ellipse cx="750" cy="971" rx="20.5" ry="11.5"/><text x="750" y="974">WaitR</text></g>
<g id="c-waitr3" class="n s"><ellipse cx="802" cy="971" rx="20.5" ry="11.5"/><text x="802" y="974">WaitR</text></g>
<g id="c-waitr4" class="n s"><ellipse cx="855" cy="971" rx="20.5" ry="11.5"/><text x="855" y="974">WaitR</text></g>
<g id="c-waitr5" class="n s"><ellipse cx="908" cy="971" rx="20.5" ry="11.5"/><text x="908" y="974">WaitR</text></g>
<g id="c-waitr6" class="n s"><ellipse cx="961" cy="971" rx="20.5" ry="11.5"/><text x="961" y="974">WaitR</text></g>
<g id="c-waitr7" class="n s"><ellipse cx="1013" cy="971" rx="20.5" ry="11.5"/><text x="1013" y="974">WaitR</text></g>
<g id="c-waitr8" class="n s"><ellipse cx="1067" cy="971" rx="20.5" ry="11.5"/><text x="1067" y="974">WaitR</text></g>
<g id="c-hasl1" class="n s"><ellipse cx="750" cy="1029" rx="19" ry="11.5"/><text x="750" y="1032">HasL</text></g>
<g id="c-hasl2" class="n s"><ellipse cx="810" cy="1029" rx="19" ry="11.5"/><text x="810" y="1032">HasL</text></g>
<g id="c-hasl3" class="n s"><ellipse cx="859" cy="1029" rx="19" ry="11.5"/><text x="859" y="1032">HasL</text></g>
<g id="c-hasl4" class="n s"><ellipse cx="911" cy="1029" rx="19" ry="11.5"/><text x="911" y="1032">HasL</text></g>
<g id="c-hasl5" class="n s"><ellipse cx="961" cy="1029" rx="19" ry="11.5"/><text x="961" y="1032">HasL</text></g>
<g id="c-hasl6" class="n s"><ellipse cx="1029" cy="1029" rx="19" ry="11.5"/><text x="1029" y="1032">HasL</text></g>
<g id="c-hasr1" class="n s"><ellipse cx="758" cy="1087" rx="19" ry="11.5"/><text x="758" y="1090">HasR</text></g>
<g id="c-hasr2" class="n s"><ellipse cx="810" cy="1087" rx="19" ry="11.5"/><text x="810" y="1090">HasR</text></g>
<g id="c-hasr3" class="n s"><ellipse cx="862" cy="1087" rx="19" ry="11.5"/><text x="862" y="1090">HasR</text></g>
<g id="c-hasr4" class="n s"><ellipse cx="915" cy="1087" rx="19" ry="11.5"/><text x="915" y="1090">HasR</text></g>
<g id="c-fork1" class="n s"><ellipse cx="809" cy="1145" rx="18" ry="11.5"/><text x="809" y="1148">Fork</text></g>
<g id="c-fork2" class="n s"><ellipse cx="863" cy="1145" rx="18" ry="11.5"/><text x="863" y="1148">Fork</text></g>
<g id="c-one" class="n s"><ellipse cx="838" cy="1203" rx="18" ry="11.5"/><text x="838" y="1206">one</text></g>
</g>
</svg>
